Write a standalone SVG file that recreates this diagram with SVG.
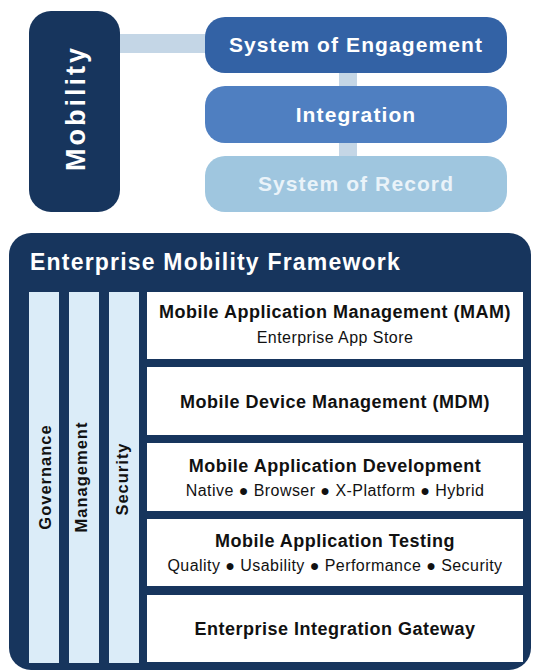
<svg xmlns="http://www.w3.org/2000/svg" width="534" height="671" viewBox="0 0 534 671">
<style>
text{font-family:"Liberation Sans",Arial,sans-serif;font-weight:bold}
.w{fill:#ffffff}
.top{font-size:21px;letter-spacing:1.1px;text-anchor:middle}
.ttl{font-size:18px;letter-spacing:0.5px;text-anchor:middle;fill:#111111}
.sub{font-size:16px;font-weight:normal;text-anchor:middle;fill:#111111;letter-spacing:0.45px}
.col{font-size:16.5px;letter-spacing:1px;text-anchor:middle;fill:#111111}
.box{fill:#ffffff}
.pillar{fill:#dbecf8}
</style>
<g id="connectors" fill="#c4d6e6">
<rect x="118" y="34" width="90" height="19"/>
<rect x="339" y="72" width="18" height="16"/>
<rect x="339" y="142" width="18" height="16"/>
</g>
<g id="mobility">
<rect x="29" y="11" width="91" height="201" rx="22" fill="#17355d"/>
<text class="w" font-size="27" letter-spacing="3" text-anchor="middle" transform="translate(85,108) rotate(-90)">Mobility</text>
</g>
<g id="engagement">
<rect x="205" y="17" width="302" height="56" rx="20" fill="#3362a5"/>
<text class="w top" x="356" y="52">System of Engagement</text>
</g>
<g id="integration">
<rect x="205" y="86" width="302" height="57" rx="20" fill="#4f7fc1"/>
<text class="w top" x="356" y="122">Integration</text>
</g>
<g id="record">
<rect x="205" y="156" width="302" height="56" rx="20" fill="#9fc6df"/>
<text class="top" fill="#eaf3f9" x="356" y="191">System of Record</text>
</g>
<g id="framework">
<rect x="9" y="233" width="522" height="437" rx="22" fill="#17355d"/>
<text class="w" x="30" y="270" font-size="23" letter-spacing="1.2">Enterprise Mobility Framework</text>
</g>
<g id="governance">
<rect class="pillar" x="29" y="292" width="30" height="371"/>
<text class="col" transform="translate(50.5,477) rotate(-90)">Governance</text>
</g>
<g id="management">
<rect class="pillar" x="69" y="292" width="30" height="371"/>
<text class="col" transform="translate(86.5,477) rotate(-90)">Management</text>
</g>
<g id="security">
<rect class="pillar" x="109" y="292" width="30" height="371"/>
<text class="col" transform="translate(128,479) rotate(-90)">Security</text>
</g>
<g id="mam">
<rect class="box" x="147" y="292" width="376" height="67"/>
<text class="ttl" x="335" y="318">Mobile Application Management (MAM)</text>
<text class="sub" x="335" y="343">Enterprise App Store</text>
</g>
<g id="mdm">
<rect class="box" x="147" y="367" width="376" height="68"/>
<text class="ttl" x="335" y="408">Mobile Device Management (MDM)</text>
</g>
<g id="mad">
<rect class="box" x="147" y="443" width="376" height="68"/>
<text class="ttl" x="335" y="472">Mobile Application Development</text>
<text class="sub" x="335" y="496">Native ● Browser ● X-Platform ● Hybrid</text>
</g>
<g id="mat">
<rect class="box" x="147" y="519" width="376" height="67"/>
<text class="ttl" x="335" y="547">Mobile Application Testing</text>
<text class="sub" x="335" y="571">Quality ● Usability ● Performance ● Security</text>
</g>
<g id="eig">
<rect class="box" x="147" y="595" width="376" height="67"/>
<text class="ttl" x="335" y="635">Enterprise Integration Gateway</text>
</g>
</svg>
